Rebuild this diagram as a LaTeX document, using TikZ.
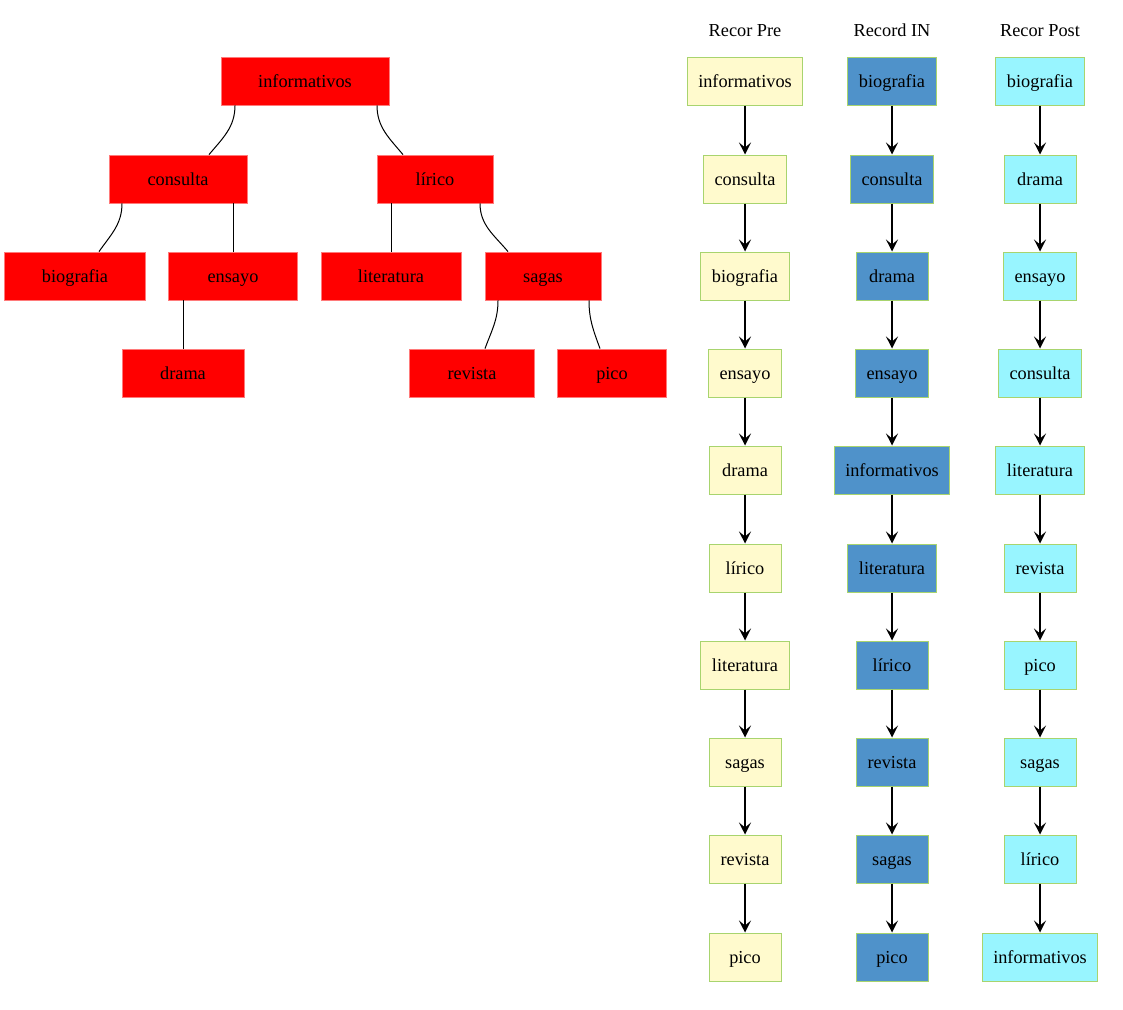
\documentclass[tikz,border=0pt]{standalone}
\usepackage{fontspec}
\setmainfont{Liberation Serif}
\usepackage{xcolor}
\usetikzlibrary{arrows.meta, positioning}
\definecolor{treered}{HTML}{FF0000}
\definecolor{treeedge}{HTML}{FF7A7A}
\definecolor{prefill}{HTML}{FFFACD}
\definecolor{infill}{HTML}{4F92CA}
\definecolor{postfill}{HTML}{98F5FF}
\definecolor{boxgreen}{HTML}{A8D46E}

\begin{document}
\begin{tikzpicture}[x=1pt, y=1pt,
  treebox/.style={rectangle, fill=treered, draw=treeedge, line width=0.8pt,
                  minimum height=48pt, inner sep=0pt, text height=14pt, text depth=2pt,
                  font=\fontsize{18.3}{21}\selectfont},
  listbox/.style={rectangle, draw=boxgreen, line width=1pt, minimum width=72pt,
                  minimum height=48pt, inner xsep=11pt, inner ysep=0pt,
                  text height=14pt, text depth=2pt,
                  font=\fontsize{18.3}{21}\selectfont},
  prebox/.style={listbox, fill=prefill},
  inbox/.style={listbox, fill=infill},
  postbox/.style={listbox, fill=postfill},
  coltitle/.style={text height=14pt, text depth=2pt, font=\fontsize{18.3}{21}\selectfont},
  branch/.style={line width=1pt},
  link/.style={-{Stealth[length=12pt, width=12pt, inset=5pt]}, line width=1.2pt}
]
\useasboundingbox (0,0) rectangle (1123,-1009);

% Tree
\node[treebox, minimum width=168pt] (tinfo) at (305,-81)  {informativos};
\node[treebox, minimum width=138pt] (tcons) at (178,-179) {consulta};
\node[treebox, minimum width=116pt] (tlir)  at (435,-179) {lírico};
\node[treebox, minimum width=141pt] (tbio)  at (75,-276)  {biografia};
\node[treebox, minimum width=129pt] (tens)  at (233,-276) {ensayo};
\node[treebox, minimum width=140pt] (tlit)  at (391,-276) {literatura};
\node[treebox, minimum width=116pt] (tsag)  at (543,-276) {sagas};
\node[treebox, minimum width=122pt] (tdra)  at (183,-373) {drama};
\node[treebox, minimum width=125pt] (trev)  at (472,-373) {revista};
\node[treebox, minimum width=109pt] (tpic)  at (612,-373) {pico};

\draw[branch] ([xshift=-70pt]tinfo.south) to[out=-90, in=50] ([xshift=31pt]tcons.north);
\draw[branch] ([xshift=72pt]tinfo.south) to[out=-90, in=130] ([xshift=-32pt]tlir.north);
\draw[branch] ([xshift=-56pt]tcons.south) to[out=-90, in=55] ([xshift=24pt]tbio.north);
\draw[branch] ([xshift=55pt]tcons.south) -- (tens.north);
\draw[branch] ([xshift=-44pt]tlir.south) -- (tlit.north);
\draw[branch] ([xshift=45pt]tlir.south) to[out=-90, in=130] ([xshift=-35pt]tsag.north);
\draw[branch] ([xshift=-50pt]tens.south) -- (tdra.north);
\draw[branch] ([xshift=-45pt]tsag.south) to[out=-90, in=70] ([xshift=13pt]trev.north);
\draw[branch] ([xshift=46pt]tsag.south) to[out=-90, in=110] ([xshift=-12pt]tpic.north);

% Recor Pre
\node[coltitle] (tpre) at (745,-30) {Recor Pre};
\node[prebox] (pre1)  at (745,-81)  {informativos};
\node[prebox] (pre2)  at (745,-179) {consulta};
\node[prebox] (pre3)  at (745,-276) {biografia};
\node[prebox] (pre4)  at (745,-373) {ensayo};
\node[prebox] (pre5)  at (745,-470) {drama};
\node[prebox] (pre6)  at (745,-568) {lírico};
\node[prebox] (pre7)  at (745,-665) {literatura};
\node[prebox] (pre8)  at (745,-762) {sagas};
\node[prebox] (pre9)  at (745,-859) {revista};
\node[prebox] (pre10) at (745,-957) {pico};

\draw[link] (pre1) -- (pre2);  \draw[link] (pre2) -- (pre3);
\draw[link] (pre3) -- (pre4);  \draw[link] (pre4) -- (pre5);
\draw[link] (pre5) -- (pre6);  \draw[link] (pre6) -- (pre7);
\draw[link] (pre7) -- (pre8);  \draw[link] (pre8) -- (pre9);
\draw[link] (pre9) -- (pre10);

% Record IN
\node[coltitle] (tin) at (892,-30) {Record IN};
\node[inbox] (in1)  at (892,-81)  {biografia};
\node[inbox] (in2)  at (892,-179) {consulta};
\node[inbox] (in3)  at (892,-276) {drama};
\node[inbox] (in4)  at (892,-373) {ensayo};
\node[inbox] (in5)  at (892,-470) {informativos};
\node[inbox] (in6)  at (892,-568) {literatura};
\node[inbox] (in7)  at (892,-665) {lírico};
\node[inbox] (in8)  at (892,-762) {revista};
\node[inbox] (in9)  at (892,-859) {sagas};
\node[inbox] (in10) at (892,-957) {pico};

\draw[link] (in1) -- (in2);  \draw[link] (in2) -- (in3);
\draw[link] (in3) -- (in4);  \draw[link] (in4) -- (in5);
\draw[link] (in5) -- (in6);  \draw[link] (in6) -- (in7);
\draw[link] (in7) -- (in8);  \draw[link] (in8) -- (in9);
\draw[link] (in9) -- (in10);

% Recor Post
\node[coltitle] (tpost) at (1040,-30) {Recor Post};
\node[postbox] (post1)  at (1040,-81)  {biografia};
\node[postbox] (post2)  at (1040,-179) {drama};
\node[postbox] (post3)  at (1040,-276) {ensayo};
\node[postbox] (post4)  at (1040,-373) {consulta};
\node[postbox] (post5)  at (1040,-470) {literatura};
\node[postbox] (post6)  at (1040,-568) {revista};
\node[postbox] (post7)  at (1040,-665) {pico};
\node[postbox] (post8)  at (1040,-762) {sagas};
\node[postbox] (post9)  at (1040,-859) {lírico};
\node[postbox] (post10) at (1040,-957) {informativos};

\draw[link] (post1) -- (post2);  \draw[link] (post2) -- (post3);
\draw[link] (post3) -- (post4);  \draw[link] (post4) -- (post5);
\draw[link] (post5) -- (post6);  \draw[link] (post6) -- (post7);
\draw[link] (post7) -- (post8);  \draw[link] (post8) -- (post9);
\draw[link] (post9) -- (post10);

\end{tikzpicture}
\end{document}
